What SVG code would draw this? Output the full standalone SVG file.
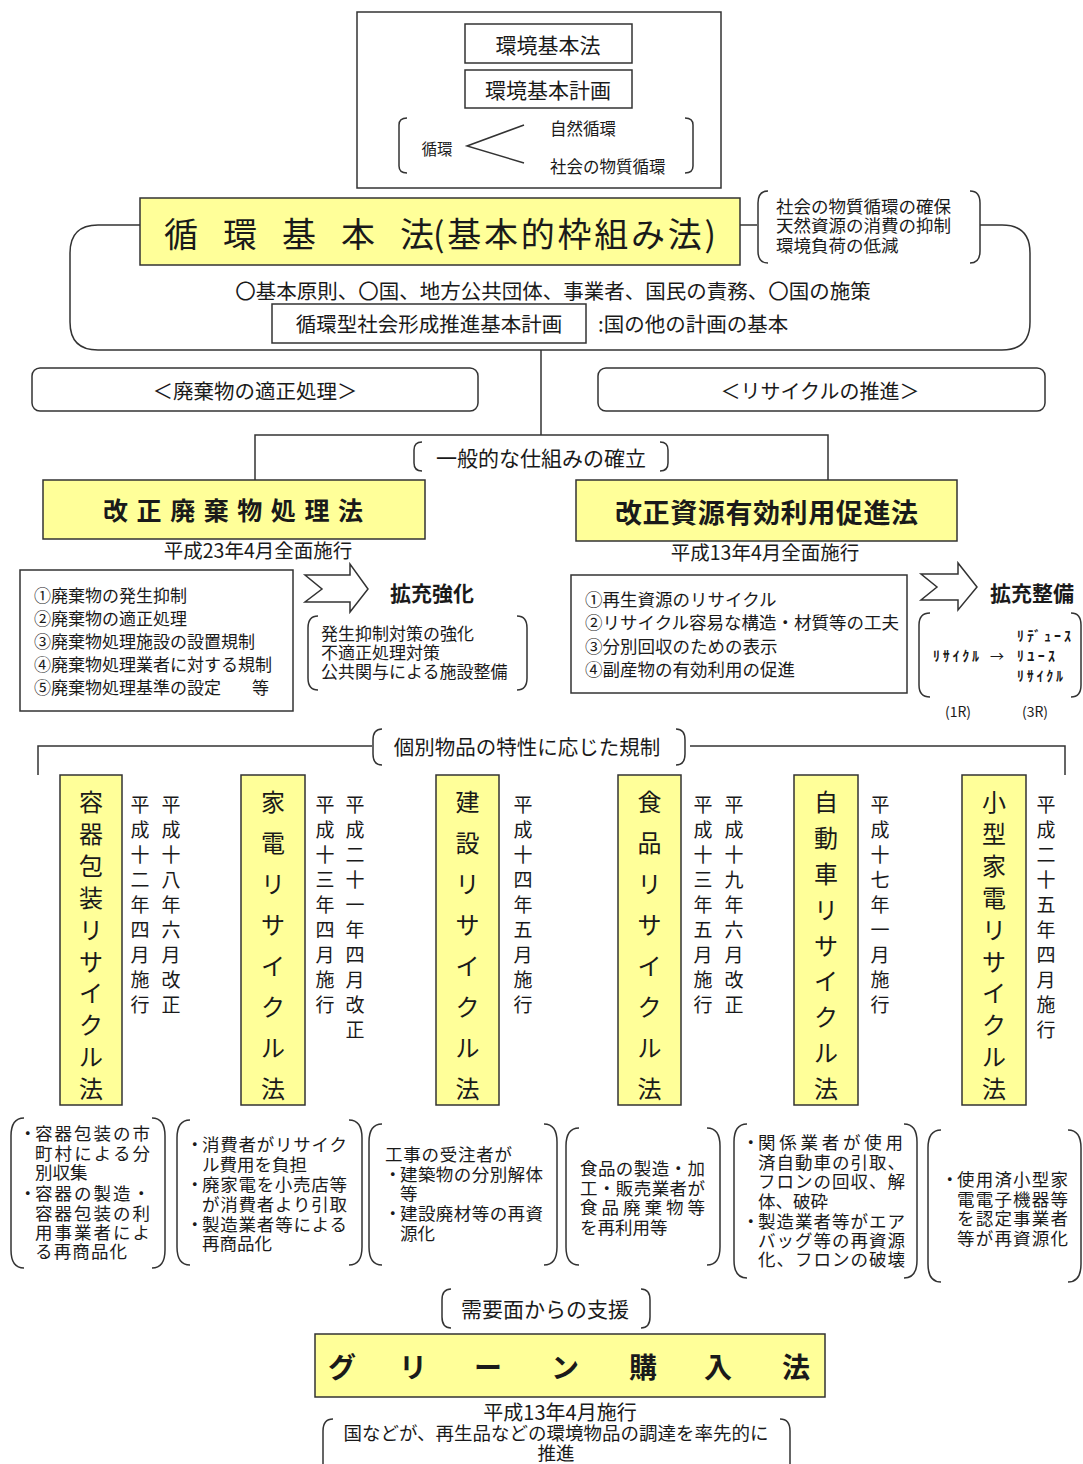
<svg xmlns="http://www.w3.org/2000/svg" width="1083" height="1464" viewBox="0 0 1083 1464">
<style>
.t{font-family:"Noto Sans CJK JP","Noto Sans",sans-serif;fill:#1a1a1a;dominant-baseline:central}
.b{font-weight:bold}
.m{text-anchor:middle}
.s{font-size:17.5px}
.box{fill:#fff;stroke:#333;stroke-width:1.5}
.yel{fill:#ffff99;stroke:#333;stroke-width:1.5}
.ln{fill:none;stroke:#333;stroke-width:1.5}
.br{fill:none;stroke:#333;stroke-width:1.5}
</style>
<rect width="1083" height="1464" fill="#fff"/>

<g id="connectors">
  <path class="ln" d="M140,225 L98,225 Q70,225 70,253 L70,322 Q70,350 98,350 L1002,350 Q1030,350 1030,322 L1030,253 Q1030,225 1002,225 L980,225"/>
  <path class="ln" d="M740,225 L757,225"/>
  <path class="ln" d="M541,350 L541,435"/>
  <path class="ln" d="M255,480 L255,435 L828,435 L828,480"/>
  <path class="ln" d="M372,746 L38,746 L38,775"/>
  <path class="ln" d="M690,746 L1065,746 L1065,775"/>
</g>

<g id="kankyo-top">
  <rect class="box" x="357" y="12" width="364" height="176"/>
  <rect class="box" x="465" y="24" width="167" height="39"/>
  <text class="t m" x="548" y="44" font-size="21">環境基本法</text>
  <rect class="box" x="465" y="70" width="167" height="38"/>
  <text class="t m" x="548" y="89" font-size="21">環境基本計画</text>
  <path class="br" d="M407,118 Q399,118 399,125 L399,166 Q399,173 407,173"/>
  <path class="br" d="M685,118 Q693,118 693,125 L693,166 Q693,173 685,173"/>
  <text class="t m" x="437" y="148" font-size="15.5">循環</text>
  <path class="ln" d="M524,125 L467,146 L524,163"/>
  <text class="t" font-size="16.5"><tspan x="550" y="128">自然循環</tspan><tspan x="550" y="166">社会の物質循環</tspan></text>
</g>

<g id="junkan-kihonho">
  <rect class="yel" x="140" y="198" width="600" height="67"/>
  <text class="t" y="232" font-size="34"><tspan x="164">循</tspan><tspan x="223">環</tspan><tspan x="282">基</tspan><tspan x="341">本</tspan><tspan x="400">法</tspan><tspan x="433" textLength="283">(基本的枠組み法)</tspan></text>
</g>

<g id="purpose">
  <path class="br" d="M768,191 Q758,191 758,203 L758,251 Q758,263 768,263"/>
  <path class="br" d="M970,191 Q980,191 980,203 L980,251 Q980,263 970,263"/>
  <text class="t" font-size="17.5"><tspan x="776" y="205">社会の物質循環の確保</tspan><tspan x="776" y="224">天然資源の消費の抑制</tspan><tspan x="776" y="244">環境負荷の低減</tspan></text>
</g>

<g id="kihon-content">
  <text class="t m" x="553" y="290" font-size="20.5">〇基本原則、〇国、地方公共団体、事業者、国民の責務、〇国の施策</text>
  <rect class="box" x="272" y="304" width="314" height="39"/>
  <text class="t m" x="429" y="323" font-size="20.5">循環型社会形成推進基本計画</text>
  <text class="t" x="598" y="323" font-size="20.5">:国の他の計画の基本</text>
</g>

<g id="tekisei-shori">
  <rect class="box" x="32" y="368" width="446" height="43" rx="8"/>
  <text class="t m" x="255" y="390" font-size="20.5">＜廃棄物の適正処理＞</text>
</g>
<g id="recycle-suishin">
  <rect class="box" x="598" y="368" width="447" height="43" rx="8"/>
  <text class="t m" x="820" y="390" font-size="20">＜リサイクルの推進＞</text>
</g>

<g id="ippan">
  <path class="br" d="M422,442 Q414,442 414,450 L414,463 Q414,471 422,471"/>
  <path class="br" d="M660,442 Q668,442 668,450 L668,463 Q668,471 660,471"/>
  <text class="t m" x="541" y="457" font-size="21">一般的な仕組みの確立</text>
</g>

<g id="haikibutsu-ho">
  <rect class="yel" x="43" y="480" width="382" height="59"/>
  <text class="t b" x="103" y="509" font-size="25" textLength="260">改正廃棄物処理法</text>
  <text class="t m" x="258" y="549" font-size="19.5">平成23年4月全面施行</text>
  <rect class="box" x="20" y="570" width="273" height="141"/>
  <text class="t" font-size="17"><tspan x="34" y="594">①廃棄物の発生抑制</tspan><tspan x="34" y="617">②廃棄物の適正処理</tspan><tspan x="34" y="640">③廃棄物処理施設の設置規制</tspan><tspan x="34" y="663">④廃棄物処理業者に対する規制</tspan><tspan x="34" y="686">⑤廃棄物処理基準の設定</tspan><tspan x="252" y="686">等</tspan></text>
</g>

<g id="kakuju-kyoka">
  <polygon class="box" points="305,575 350,575 350,564 368,589 350,612 350,602 305,602 322,589"/>
  <text class="t b" x="390" y="592" font-size="21">拡充強化</text>
  <path class="br" d="M318,616 Q308,616 308,628 L308,678 Q308,690 318,690"/>
  <path class="br" d="M517,616 Q527,616 527,628 L527,678 Q527,690 517,690"/>
  <text class="t" font-size="17"><tspan x="321" y="632">発生抑制対策の強化</tspan><tspan x="321" y="651">不適正処理対策</tspan><tspan x="321" y="670">公共関与による施設整備</tspan></text>
</g>

<g id="shigen-ho">
  <rect class="yel" x="576" y="480" width="381" height="61"/>
  <text class="t b" x="615" y="511" font-size="27" textLength="303">改正資源有効利用促進法</text>
  <text class="t m" x="765" y="551" font-size="19.5">平成13年4月全面施行</text>
  <rect class="box" x="571" y="575" width="336" height="118"/>
  <text class="t" font-size="17.5"><tspan x="585" y="598">①再生資源のリサイクル</tspan><tspan x="585" y="621">②リサイクル容易な構造・材質等の工夫</tspan><tspan x="585" y="645">③分別回収のための表示</tspan><tspan x="585" y="668">④副産物の有効利用の促進</tspan></text>
</g>

<g id="kakuju-seibi">
  <polygon class="box" points="921,574 958,574 958,563 977,587 958,610 958,600 921,600 937,587"/>
  <text class="t b" x="990" y="592" font-size="21">拡充整備</text>
  <path class="br" d="M930,613 Q919,613 919,625 L919,685 Q919,697 930,697"/>
  <path class="br" d="M1071,613 Q1081,613 1081,625 L1081,685 Q1081,697 1071,697"/>
  <text class="t b" font-size="14"><tspan x="933" y="655" textLength="46">ﾘｻｲｸﾙ</tspan><tspan x="990" y="655" font-weight="normal">→</tspan><tspan x="1017" y="635" textLength="54">ﾘﾃﾞｭｰｽ</tspan><tspan x="1017" y="655" textLength="38">ﾘﾕｰｽ</tspan><tspan x="1017" y="675" textLength="46">ﾘｻｲｸﾙ</tspan></text>
  <text class="t m" font-size="14"><tspan x="958" y="711">(1R)</tspan><tspan x="1035" y="711">(3R)</tspan></text>
</g>

<g id="kobetsu">
  <path class="br" d="M382,729 Q373,729 373,740 L373,754 Q373,765 382,765"/>
  <path class="br" d="M676,729 Q685,729 685,740 L685,754 Q685,765 676,765"/>
  <text class="t m" x="527" y="746" font-size="20.5">個別物品の特性に応じた規制</text>
</g>

<g id="yoki-ho">
  <rect class="yel" x="60" y="775" width="62" height="330"/>
  <text class="t m" font-size="24"><tspan x="91" y="800">容</tspan><tspan x="91" y="832">器</tspan><tspan x="91" y="864">包</tspan><tspan x="91" y="896">装</tspan><tspan x="91" y="928">リ</tspan><tspan x="91" y="960">サ</tspan><tspan x="91" y="991">イ</tspan><tspan x="91" y="1023">ク</tspan><tspan x="91" y="1055">ル</tspan><tspan x="91" y="1087">法</tspan></text>
  <text class="t m" font-size="19"><tspan x="140" y="803">平</tspan><tspan x="140" y="828">成</tspan><tspan x="140" y="853">十</tspan><tspan x="140" y="878">二</tspan><tspan x="140" y="903">年</tspan><tspan x="140" y="928">四</tspan><tspan x="140" y="953">月</tspan><tspan x="140" y="978">施</tspan><tspan x="140" y="1003">行</tspan><tspan x="171" y="803">平</tspan><tspan x="171" y="828">成</tspan><tspan x="171" y="853">十</tspan><tspan x="171" y="878">八</tspan><tspan x="171" y="903">年</tspan><tspan x="171" y="928">六</tspan><tspan x="171" y="953">月</tspan><tspan x="171" y="978">改</tspan><tspan x="171" y="1003">正</tspan></text>
  <path class="br" d="M24,1118 Q11,1118 11,1136 L11,1250 Q11,1268 24,1268"/>
  <path class="br" d="M152,1118 Q165,1118 165,1136 L165,1250 Q165,1268 152,1268"/>
  <text class="t s"><tspan x="19" y="1132">・</tspan><tspan x="35" y="1132" textLength="115">容器包装の市</tspan><tspan x="35" y="1152" textLength="115">町村による分</tspan><tspan x="35" y="1171">別収集</tspan><tspan x="19" y="1192">・</tspan><tspan x="35" y="1192" textLength="115">容器の製造・</tspan><tspan x="35" y="1212" textLength="115">容器包装の利</tspan><tspan x="35" y="1231" textLength="115">用事業者によ</tspan><tspan x="35" y="1250" textLength="92">る再商品化</tspan></text>
</g>

<g id="kaden-ho">
  <rect class="yel" x="241" y="775" width="64" height="330"/>
  <text class="t m" font-size="24"><tspan x="273" y="800">家</tspan><tspan x="273" y="841">電</tspan><tspan x="273" y="882">リ</tspan><tspan x="273" y="923">サ</tspan><tspan x="273" y="964">イ</tspan><tspan x="273" y="1005">ク</tspan><tspan x="273" y="1046">ル</tspan><tspan x="273" y="1087">法</tspan></text>
  <text class="t m" font-size="19"><tspan x="325" y="803">平</tspan><tspan x="325" y="828">成</tspan><tspan x="325" y="853">十</tspan><tspan x="325" y="878">三</tspan><tspan x="325" y="903">年</tspan><tspan x="325" y="928">四</tspan><tspan x="325" y="953">月</tspan><tspan x="325" y="978">施</tspan><tspan x="325" y="1003">行</tspan><tspan x="355" y="803">平</tspan><tspan x="355" y="828">成</tspan><tspan x="355" y="853">二</tspan><tspan x="355" y="878">十</tspan><tspan x="355" y="903">一</tspan><tspan x="355" y="928">年</tspan><tspan x="355" y="953">四</tspan><tspan x="355" y="978">月</tspan><tspan x="355" y="1003">改</tspan><tspan x="355" y="1028">正</tspan></text>
  <path class="br" d="M190,1120 Q177,1120 177,1138 L177,1247 Q177,1265 190,1265"/>
  <path class="br" d="M349,1120 Q362,1120 362,1138 L362,1247 Q362,1265 349,1265"/>
  <text class="t s"><tspan x="186" y="1143">・</tspan><tspan x="202" y="1143" textLength="145">消費者がリサイク</tspan><tspan x="202" y="1163">ル費用を負担</tspan><tspan x="186" y="1183">・</tspan><tspan x="202" y="1183" textLength="145">廃家電を小売店等</tspan><tspan x="202" y="1203" textLength="145">が消費者より引取</tspan><tspan x="186" y="1223">・</tspan><tspan x="202" y="1223" textLength="145">製造業者等による</tspan><tspan x="202" y="1242">再商品化</tspan></text>
</g>

<g id="kensetsu-ho">
  <rect class="yel" x="436" y="775" width="63" height="330"/>
  <text class="t m" font-size="24"><tspan x="467.5" y="800">建</tspan><tspan x="467.5" y="841">設</tspan><tspan x="467.5" y="882">リ</tspan><tspan x="467.5" y="923">サ</tspan><tspan x="467.5" y="964">イ</tspan><tspan x="467.5" y="1005">ク</tspan><tspan x="467.5" y="1046">ル</tspan><tspan x="467.5" y="1087">法</tspan></text>
  <text class="t m" font-size="19"><tspan x="523" y="803">平</tspan><tspan x="523" y="828">成</tspan><tspan x="523" y="853">十</tspan><tspan x="523" y="878">四</tspan><tspan x="523" y="903">年</tspan><tspan x="523" y="928">五</tspan><tspan x="523" y="953">月</tspan><tspan x="523" y="978">施</tspan><tspan x="523" y="1003">行</tspan></text>
  <path class="br" d="M382,1124 Q369,1124 369,1142 L369,1247 Q369,1265 382,1265"/>
  <path class="br" d="M544,1124 Q557,1124 557,1142 L557,1247 Q557,1265 544,1265"/>
  <text class="t s"><tspan x="385" y="1153" textLength="127">工事の受注者が</tspan><tspan x="384" y="1173">・</tspan><tspan x="400" y="1173" textLength="143">建築物の分別解体</tspan><tspan x="400" y="1192">等</tspan><tspan x="384" y="1212">・</tspan><tspan x="400" y="1212" textLength="143">建設廃材等の再資</tspan><tspan x="400" y="1232">源化</tspan></text>
</g>

<g id="shokuhin-ho">
  <rect class="yel" x="618" y="775" width="63" height="330"/>
  <text class="t m" font-size="24"><tspan x="649.5" y="800">食</tspan><tspan x="649.5" y="841">品</tspan><tspan x="649.5" y="882">リ</tspan><tspan x="649.5" y="923">サ</tspan><tspan x="649.5" y="964">イ</tspan><tspan x="649.5" y="1005">ク</tspan><tspan x="649.5" y="1046">ル</tspan><tspan x="649.5" y="1087">法</tspan></text>
  <text class="t m" font-size="19"><tspan x="703" y="803">平</tspan><tspan x="703" y="828">成</tspan><tspan x="703" y="853">十</tspan><tspan x="703" y="878">三</tspan><tspan x="703" y="903">年</tspan><tspan x="703" y="928">五</tspan><tspan x="703" y="953">月</tspan><tspan x="703" y="978">施</tspan><tspan x="703" y="1003">行</tspan><tspan x="734" y="803">平</tspan><tspan x="734" y="828">成</tspan><tspan x="734" y="853">十</tspan><tspan x="734" y="878">九</tspan><tspan x="734" y="903">年</tspan><tspan x="734" y="928">六</tspan><tspan x="734" y="953">月</tspan><tspan x="734" y="978">改</tspan><tspan x="734" y="1003">正</tspan></text>
  <path class="br" d="M579,1128 Q566,1128 566,1146 L566,1247 Q566,1265 579,1265"/>
  <path class="br" d="M707,1128 Q720,1128 720,1146 L720,1247 Q720,1265 707,1265"/>
  <text class="t s"><tspan x="580" y="1167" textLength="125">食品の製造・加</tspan><tspan x="580" y="1187" textLength="125">工・販売業者が</tspan><tspan x="580" y="1206" textLength="125">食品廃棄物等</tspan><tspan x="580" y="1226">を再利用等</tspan></text>
</g>

<g id="jidosha-ho">
  <rect class="yel" x="794" y="775" width="64" height="330"/>
  <text class="t m" font-size="24"><tspan x="826" y="800">自</tspan><tspan x="826" y="836">動</tspan><tspan x="826" y="872">車</tspan><tspan x="826" y="908">リ</tspan><tspan x="826" y="944">サ</tspan><tspan x="826" y="979">イ</tspan><tspan x="826" y="1015">ク</tspan><tspan x="826" y="1051">ル</tspan><tspan x="826" y="1087">法</tspan></text>
  <text class="t m" font-size="19"><tspan x="880" y="803">平</tspan><tspan x="880" y="828">成</tspan><tspan x="880" y="853">十</tspan><tspan x="880" y="878">七</tspan><tspan x="880" y="903">年</tspan><tspan x="880" y="928">一</tspan><tspan x="880" y="953">月</tspan><tspan x="880" y="978">施</tspan><tspan x="880" y="1003">行</tspan></text>
  <path class="br" d="M747,1124 Q734,1124 734,1142 L734,1260 Q734,1278 747,1278"/>
  <path class="br" d="M904,1124 Q917,1124 917,1142 L917,1260 Q917,1278 904,1278"/>
  <text class="t s"><tspan x="742" y="1141">・</tspan><tspan x="758" y="1141" textLength="145">関係業者が使用</tspan><tspan x="758" y="1161" textLength="147">済自動車の引取、</tspan><tspan x="758" y="1180" textLength="147">フロンの回収、解</tspan><tspan x="758" y="1200">体、破砕</tspan><tspan x="742" y="1220">・</tspan><tspan x="758" y="1220" textLength="147">製造業者等がエア</tspan><tspan x="758" y="1239" textLength="147">バッグ等の再資源</tspan><tspan x="758" y="1258" textLength="147">化、フロンの破壊</tspan></text>
</g>

<g id="kogata-kaden-ho">
  <rect class="yel" x="962" y="775" width="64" height="330"/>
  <text class="t m" font-size="24"><tspan x="994" y="800">小</tspan><tspan x="994" y="832">型</tspan><tspan x="994" y="864">家</tspan><tspan x="994" y="896">電</tspan><tspan x="994" y="928">リ</tspan><tspan x="994" y="960">サ</tspan><tspan x="994" y="991">イ</tspan><tspan x="994" y="1023">ク</tspan><tspan x="994" y="1055">ル</tspan><tspan x="994" y="1087">法</tspan></text>
  <text class="t m" font-size="19"><tspan x="1046" y="803">平</tspan><tspan x="1046" y="828">成</tspan><tspan x="1046" y="853">二</tspan><tspan x="1046" y="878">十</tspan><tspan x="1046" y="903">五</tspan><tspan x="1046" y="928">年</tspan><tspan x="1046" y="953">四</tspan><tspan x="1046" y="978">月</tspan><tspan x="1046" y="1003">施</tspan><tspan x="1046" y="1028">行</tspan></text>
  <path class="br" d="M941,1130 Q928,1130 928,1148 L928,1264 Q928,1282 941,1282"/>
  <path class="br" d="M1068,1130 Q1081,1130 1081,1148 L1081,1264 Q1081,1282 1068,1282"/>
  <text class="t s"><tspan x="941" y="1178">・</tspan><tspan x="957" y="1178" textLength="111">使用済小型家</tspan><tspan x="957" y="1198" textLength="111">電電子機器等</tspan><tspan x="957" y="1217" textLength="111">を認定事業者</tspan><tspan x="957" y="1237" textLength="111">等が再資源化</tspan></text>
</g>

<g id="juyo-shien">
  <path class="br" d="M451,1289 Q442,1289 442,1300 L442,1317 Q442,1328 451,1328"/>
  <path class="br" d="M641,1289 Q650,1289 650,1300 L650,1317 Q650,1328 641,1328"/>
  <text class="t m" x="545" y="1308" font-size="21">需要面からの支援</text>
</g>

<g id="green-ho">
  <rect class="yel" x="315" y="1334" width="510" height="63"/>
  <text class="t m b" y="1366" font-size="28"><tspan x="342">グ</tspan><tspan x="413">リ</tspan><tspan x="488">ー</tspan><tspan x="565">ン</tspan><tspan x="643">購</tspan><tspan x="718">入</tspan><tspan x="796">法</tspan></text>
  <path class="br" d="M333,1419 Q323,1419 323,1431 L323,1470"/>
  <path class="br" d="M780,1419 Q790,1419 790,1431 L790,1470"/>
  <text class="t m" font-size="18.5"><tspan x="560" y="1411" font-size="20">平成13年4月施行</tspan><tspan x="556" y="1432">国などが、再生品などの環境物品の調達を率先的に</tspan><tspan x="556" y="1452">推進</tspan></text>
</g>
</svg>
